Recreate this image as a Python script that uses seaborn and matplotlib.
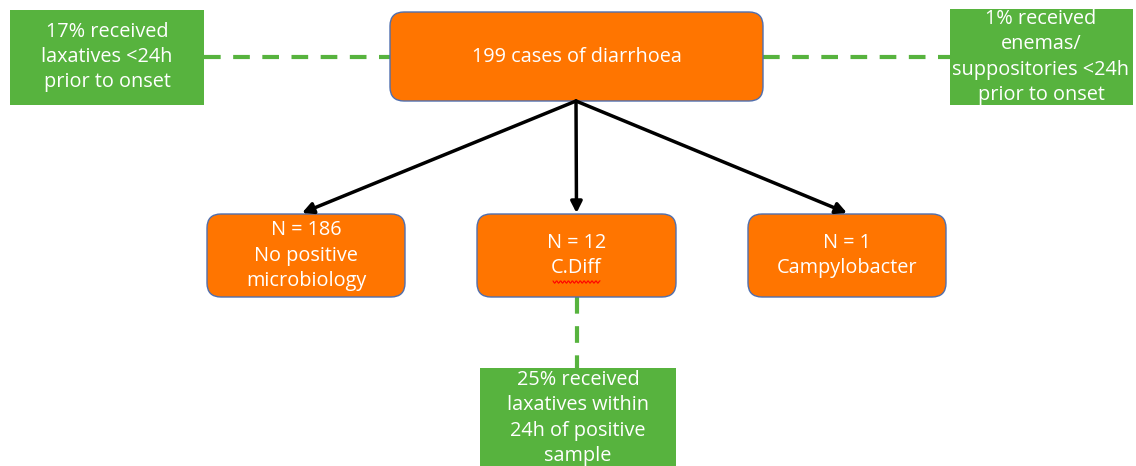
import matplotlib.pyplot as plt
import seaborn as sns
import numpy as np
from matplotlib.patches import FancyBboxPatch, Rectangle

sns.set_theme(style="white")
plt.rcParams['font.family'] = ['Open Sans', 'DejaVu Sans']

# node texts
top_label = "199 cases of diarrhoea"
child_labels = ["N = 186\nNo positive\nmicrobiology", "N = 12\nC.Diff", "N = 1\nCampylobacter"]
side_labels = ["17% received\nlaxatives <24h\nprior to onset",
               "1% received\nenemas/\nsuppositories <24h\nprior to onset"]
bottom_label = "25% received\nlaxatives within\n24h of positive\nsample"

orange = "#FF7500"
green = "#57B33E"
edge_blue = "#4F6FAF"

# layout in pixel units (x, y, w, h) with y going down
top_box = (390, 12, 373, 89)
child_boxes = [(207, 214, 198, 83), (477, 214, 199, 83), (748, 214, 198, 83)]
side_boxes = [(10, 10, 194, 95), (950, 9, 183, 96)]
bottom_box = (480, 368, 196, 98)

fig, ax = plt.subplots(figsize=(11.36, 4.66), dpi=100)
fig.subplots_adjust(0, 0, 1, 1)
ax.set_xlim(0, 1136)
ax.set_ylim(466, 0)
ax.axis("off")

def rounded(box):
    x, y, w, h = box
    p = FancyBboxPatch((x + 12, y + 12), w - 24, h - 24,
                       boxstyle="round,pad=12,rounding_size=14",
                       fc=orange, ec=edge_blue, lw=1.0, zorder=3)
    ax.add_patch(p)

def green_box(box):
    x, y, w, h = box
    ax.add_patch(Rectangle((x, y), w, h, fc=green, ec="none", zorder=3))

dash = dict(color=green, lw=3, ls=(0, (4, 3)), zorder=2)

# dashed connectors
ax.plot([side_boxes[0][0] + side_boxes[0][2], top_box[0]], [57, 57], **dash)
ax.plot([top_box[0] + top_box[2], side_boxes[1][0]], [57, 57], **dash)
ax.plot([577, 577], [297, 368], **dash)

# arrows from the top box
start = (576, 101)
for bx in child_boxes:
    cx = bx[0] + bx[2] / 2 - 4 if bx[0] < 400 else bx[0] + bx[2] / 2
    end = (cx, bx[1] - 1)
    ax.annotate("", xy=end, xytext=start,
                arrowprops=dict(arrowstyle="-|>,head_length=0.55,head_width=0.28",
                                color="black", lw=2.5, shrinkA=0, shrinkB=0),
                zorder=4)

rounded(top_box)
for bx in child_boxes:
    rounded(bx)
for bx in side_boxes:
    green_box(bx)
green_box(bottom_box)

txt = dict(color="white", ha="center", va="center", fontsize=14.3, linespacing=1.36, zorder=5)

def center(box):
    x, y, w, h = box
    return x + w / 2, y + h / 2

ax.text(*center(top_box), top_label, **txt)
for bx, lab in zip(child_boxes, child_labels):
    ax.text(*center(bx), lab, **txt)
ax.text(107, 57, side_labels[0], **txt)
ax.text(1041, 57, side_labels[1], **txt)
ax.text(578, 418, bottom_label, **txt)

# red squiggle under C.Diff
xs = np.linspace(553, 600, 60)
ax.plot(xs, 282 + 1.2 * np.sin(xs * 1.6), color="red", lw=0.8, zorder=6)

fig.savefig("out.png", dpi=100)
